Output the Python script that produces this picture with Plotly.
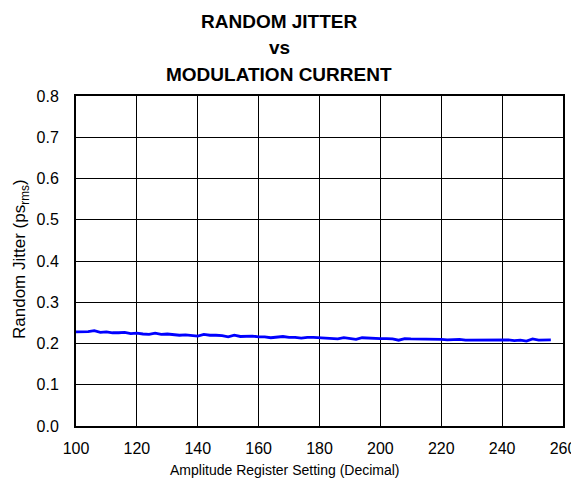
import plotly.graph_objects as go

# amplitude register setting (decimal)
amp_setting = list(range(100, 258, 2))

# random jitter, ps rms
rj_ps = [
    0.228, 0.228, 0.229, 0.231, 0.227, 0.228, 0.226, 0.226, 0.227, 0.224,
    0.225, 0.223, 0.222, 0.225, 0.222, 0.223, 0.221, 0.220, 0.221, 0.220,
    0.218, 0.222, 0.220, 0.220, 0.219, 0.216, 0.220, 0.217, 0.217, 0.218,
    0.216, 0.216, 0.214, 0.215, 0.217, 0.215, 0.215, 0.213, 0.215, 0.215,
    0.214, 0.214, 0.213, 0.211, 0.214, 0.212, 0.210, 0.214, 0.213, 0.213,
    0.212, 0.212, 0.211, 0.208, 0.212, 0.211, 0.211, 0.210, 0.211, 0.211,
    0.210, 0.209, 0.209, 0.210, 0.208, 0.208, 0.209, 0.208, 0.209, 0.209,
    0.208, 0.209, 0.207, 0.208, 0.206, 0.211, 0.208, 0.208, 0.209,
]

x_ticks = list(range(100, 261, 20))
y_ticks = [0.0, 0.1, 0.2, 0.3, 0.4, 0.5, 0.6, 0.7, 0.8]
title_lines = ["RANDOM JITTER", "vs", "MODULATION CURRENT"]
x_title = "Amplitude Register Setting (Decimal)"
y_title = "Random Jitter (ps<sub>rms</sub>)"

FONT = "Liberation Sans, Arial, sans-serif"

# page body adds an 8 px margin, so the figure is drawn 8 px smaller
# and the plot box lands at x 76..563, y 96..426 of the window
PX0, PX1, PY0, PY1 = 76, 563, 96, 426


def px(x):
    return (x - PX0) / (PX1 - PX0)


def py(y):
    return (PY1 - y) / (PY1 - PY0)


fig = go.Figure(
    go.Scatter(
        x=amp_setting,
        y=rj_ps,
        mode="lines",
        line=dict(color="#0000ff", width=2.8),
        showlegend=False,
    )
)

# three-line bold title, off-centre like the original
for txt, yy in zip(title_lines, [21, 48, 74]):
    fig.add_annotation(
        text=f"<b>{txt}</b>",
        xref="paper", yref="paper",
        x=px(279), y=py(yy),
        xanchor="center", yanchor="middle",
        showarrow=False,
        font=dict(family=FONT, size=19, color="black"),
    )

# axis titles as annotations (x title is not centred on the plot box)
fig.add_annotation(
    text=x_title,
    xref="paper", yref="paper",
    x=px(285), y=py(470),
    xanchor="center", yanchor="middle",
    showarrow=False,
    font=dict(family=FONT, size=14, color="black"),
)
fig.add_annotation(
    text=y_title,
    xref="paper", yref="paper",
    x=px(21), y=py(259),
    xanchor="center", yanchor="middle",
    textangle=-90,
    showarrow=False,
    font=dict(family=FONT, size=17, color="black"),
)

fig.update_layout(
    width=571,
    height=482,
    margin=dict(l=PX0 - 8, r=571 + 8 - PX1, t=PY0 - 8, b=482 + 8 - PY1),
    paper_bgcolor="white",
    plot_bgcolor="white",
    font=dict(family=FONT, size=16, color="black"),
    xaxis=dict(
        range=[100, 260],
        tickvals=x_ticks,
        showgrid=True, gridcolor="black", gridwidth=1,
        showline=True, linecolor="black", linewidth=2, mirror=True,
        zeroline=False,
        ticks="", ticklen=0,
        ticklabelstandoff=7,
        automargin=False,
    ),
    yaxis=dict(
        range=[0, 0.8],
        tickvals=y_ticks,
        tickformat=".1f",
        showgrid=True, gridcolor="black", gridwidth=1,
        showline=True, linecolor="black", linewidth=2, mirror=True,
        zeroline=False,
        ticks="", ticklen=0,
        ticklabelstandoff=12,
        automargin=False,
    ),
)

fig.write_html("out.html")
